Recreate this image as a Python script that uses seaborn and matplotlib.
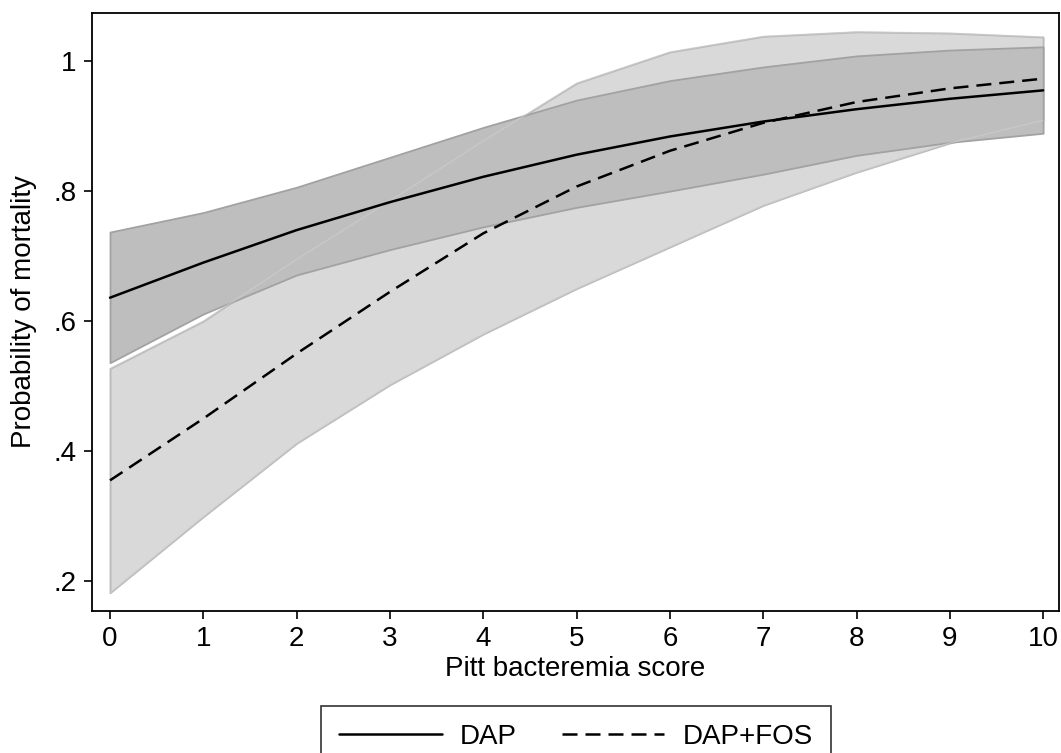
import numpy as np
import pandas as pd
import matplotlib
matplotlib.use("Agg")
import matplotlib.pyplot as plt
import seaborn as sns

# Predicted probability of mortality by Pitt bacteremia score, with 95% CI bands
pitt_score = [0, 1, 2, 3, 4, 5, 6, 7, 8, 9, 10]

dap_prob = [0.636, 0.690, 0.740, 0.783, 0.822, 0.856, 0.884, 0.907, 0.926, 0.942, 0.955]
dap_lower = [0.536, 0.611, 0.671, 0.710, 0.745, 0.775, 0.800, 0.826, 0.855, 0.875, 0.889]
dap_upper = [0.737, 0.767, 0.806, 0.852, 0.898, 0.940, 0.970, 0.991, 1.008, 1.017, 1.022]

fos_prob = [0.355, 0.450, 0.550, 0.645, 0.735, 0.807, 0.862, 0.905, 0.937, 0.958, 0.973]
fos_lower = [0.182, 0.299, 0.412, 0.502, 0.580, 0.650, 0.714, 0.778, 0.829, 0.874, 0.909]
fos_upper = [0.527, 0.600, 0.695, 0.785, 0.877, 0.966, 1.014, 1.038, 1.045, 1.043, 1.037]

group_names = ["DAP", "DAP+FOS"]
y_ticks = [0.2, 0.4, 0.6, 0.8, 1.0]
y_tick_labels = [".2", ".4", ".6", ".8", "1"]

df = pd.DataFrame({
    "Pitt bacteremia score": pitt_score * 2,
    "Probability of mortality": dap_prob + fos_prob,
    "group": [group_names[0]] * len(pitt_score) + [group_names[1]] * len(pitt_score),
})

sns.set_theme(style="white")
plt.rcParams["font.family"] = ["Liberation Sans", "DejaVu Sans"]
plt.rcParams["text.color"] = "black"
plt.rcParams["axes.labelcolor"] = "black"

FS = 20

fig = plt.figure(figsize=(10.61, 7.53), dpi=100)
ax = fig.add_axes([92 / 1061, 1 - 611 / 753, (1059 - 92) / 1061, (611 - 13) / 753])

# confidence bands
ax.fill_between(pitt_score, fos_lower, fos_upper, facecolor="#d9d9d9",
                edgecolor="#b9b9b9", linewidth=1.3, zorder=1)
ax.fill_between(pitt_score, dap_lower, dap_upper, facecolor="#bebebe",
                edgecolor="#a2a2a2", linewidth=1.3, zorder=2)
# faint outline of the wider band showing through
ax.plot(pitt_score, fos_lower, color="#cfcfcf", lw=1.0, alpha=0.6, zorder=3)
ax.plot(pitt_score, fos_upper, color="#cfcfcf", lw=1.0, alpha=0.6, zorder=3)

sns.lineplot(data=df, x="Pitt bacteremia score", y="Probability of mortality",
             style="group", dashes={"DAP": "", "DAP+FOS": (6, 3.2)},
             color="black", linewidth=1.8, ax=ax, legend=True, zorder=4)

ax.set_xlim(-0.193, 10.17)
ax.set_ylim(0.154, 1.074)
ax.set_xticks(pitt_score)
ax.set_xticklabels([str(v) for v in pitt_score])
ax.set_yticks(y_ticks)
ax.set_yticklabels(y_tick_labels)

ax.tick_params(axis="both", which="major", labelsize=FS, length=6, width=1.2,
               color="black", labelcolor="black", direction="out",
               left=True, bottom=True, pad=5)
for side in ["left", "right", "top", "bottom"]:
    ax.spines[side].set_visible(True)
    ax.spines[side].set_color("black")
    ax.spines[side].set_linewidth(1.3)

ax.set_xlabel("Pitt bacteremia score", fontsize=FS, color="black", labelpad=3)
ax.set_ylabel("Probability of mortality", fontsize=FS, color="black", labelpad=12)

handles, labels = ax.get_legend_handles_labels()
ax.get_legend().remove()
leg = fig.legend(handles, labels, loc="upper center",
                 bbox_to_anchor=(576 / 1061, 1 - 706 / 753), ncol=2,
                 fontsize=FS, frameon=True, fancybox=False, edgecolor="black",
                 handlelength=3.7, handletextpad=0.65, columnspacing=1.6,
                 borderpad=0.65, borderaxespad=0)
leg.get_frame().set_linewidth(1.2)
for text in leg.get_texts():
    text.set_color("black")
for line in leg.get_lines():
    line.set_linewidth(1.8)

fig.savefig("out.png", dpi=100)
